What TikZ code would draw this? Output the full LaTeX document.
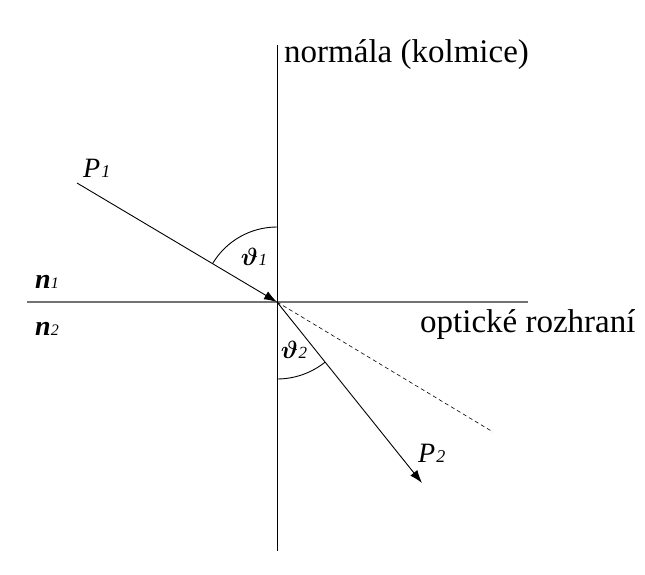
\documentclass[tikz,border=0pt]{standalone}
\usepackage{bm}
\usepackage{fontspec}
\setmainfont{Liberation Serif}
\usetikzlibrary{arrows.meta,calc}
\begin{document}
\begin{tikzpicture}[x=1pt,y=1pt,
  ray/.style={line width=0.9pt,-{Latex[length=13pt,width=9pt]}},
  axis/.style={line width=0.9pt},
  iface/.style={line width=1.4pt,black!55},
  big/.style={font=\fontsize{33}{38}\selectfont,inner sep=0pt},
  lab/.style={font=\fontsize{28}{30}\selectfont\itshape,inner sep=0pt},
  nlab/.style={font=\fontsize{28}{32}\selectfont\bfseries\itshape,inner sep=0pt},
  ang/.style={font=\fontsize{28}{30}\selectfont,inner sep=0pt}]
\useasboundingbox (0,0) rectangle (645,574);
\coordinate (O) at (277,272);
\coordinate (top) at (277,529);
\coordinate (bot) at (277,23);
\coordinate (L) at (27,272);
\coordinate (R) at (528,272);
\coordinate (A) at (77,391);
\coordinate (B) at (422,91);
\coordinate (D) at (493,142);
\draw[iface] (L) -- (R);
\draw[axis] (top) -- (bot);
\draw[ray] (A) -- (O);
\draw[ray] (O) -- (B);
\draw[line width=0.6pt,dash pattern=on 4pt off 3pt] (O) -- (D);
\draw[line width=0.9pt] ($(O)+(90:75)$) arc[start angle=90,end angle=149.2,radius=75];
\draw[line width=0.9pt] ($(O)+(270:77)$) arc[start angle=270,end angle=308.7,radius=77];
\node[big,anchor=base west] (nor) at (284,511) {normála (kolmice)};
\node[big,anchor=base west] (opt) at (420,242) {optické rozhraní};
\node[lab,anchor=base west] (p1) at (83,396) {P\kern1pt{\fontsize{18}{18}\selectfont 1}};
\node[lab,anchor=base west] (p2) at (418,112) {P\kern1pt{\fontsize{18}{18}\selectfont 2}};
\node[ang] (t1) at (254,317) {$\bm{\vartheta}$\kern0.5pt{\fontsize{17}{18}\selectfont\itshape 1}};
\node[ang] (t2) at (294,224) {$\bm{\vartheta}$\kern0.5pt{\fontsize{17}{18}\selectfont\itshape 2}};
\node[nlab,anchor=base west] (n1) at (35,286) {n{\fontsize{16}{18}\selectfont\mdseries 1}};
\node[nlab,anchor=base west] (n2) at (35,239) {n{\fontsize{16}{18}\selectfont\mdseries 2}};
\end{tikzpicture}
\end{document}
